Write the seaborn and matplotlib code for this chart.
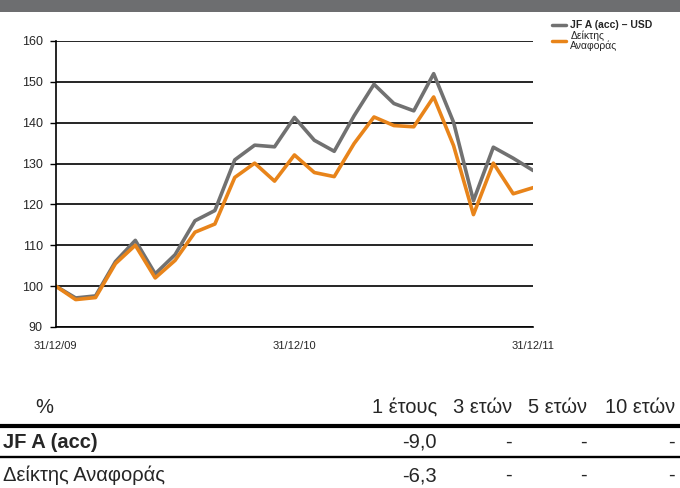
import pandas as pd
import matplotlib
matplotlib.use("Agg")
import matplotlib.pyplot as plt
import seaborn as sns
from matplotlib.lines import Line2D
from matplotlib.patches import Rectangle

# Δεδομένα (μηνιαίες τιμές, βάση 100 στις 31/12/09)
months = list(range(25))
fund = [100, 97.1, 97.6, 106.0, 111.2, 103.0, 107.7, 116.0, 118.5, 130.9,
        134.5, 134.1, 141.3, 135.7, 133.0, 141.7, 149.4, 144.7, 142.9, 152.0,
        140.1, 120.9, 134.0, 131.3, 128.3]
index = [100, 96.7, 97.2, 105.5, 110.0, 102.0, 106.3, 113.2, 115.2, 126.6,
         130.1, 125.7, 132.1, 127.8, 126.8, 134.9, 141.4, 139.3, 139.0, 146.3,
         134.4, 117.5, 130.1, 122.6, 124.1]
series_names = ["JF A (acc) – USD", "Δείκτης\nΑναφοράς"]
xtick_pos = [0, 12, 24]
xtick_labels = ["31/12/09", "31/12/10", "31/12/11"]
yticks = [90, 100, 110, 120, 130, 140, 150, 160]

table_header = ["%", "1 έτους", "3 ετών", "5 ετών", "10 ετών"]
row_names = ["JF A (acc)", "Δείκτης Αναφοράς"]
row_values = [["-9,0", "-", "-", "-"], ["-6,3", "-", "-", "-"]]

GRAY = "#717171"
ORANGE = "#e8841a"

df = pd.DataFrame({
    "month": months * 2,
    "value": fund + index,
    "series": [series_names[0]] * len(months) + [series_names[1]] * len(months),
})

sns.set_style("white")
plt.rcParams["font.family"] = ["Liberation Sans", "DejaVu Sans"]

fig = plt.figure(figsize=(6.8, 4.88), dpi=100)
ax = fig.add_axes([0.082, 0.330, 0.702, 0.586])

sns.lineplot(data=df, x="month", y="value", hue="series",
             palette=[GRAY, ORANGE], linewidth=2.6, ax=ax, legend=False)

ax.set_xlim(0, 24)
ax.set_ylim(90, 160)
ax.set_yticks(yticks)
ax.set_xticks(xtick_pos)
ax.set_xticklabels(xtick_labels)
ax.set_xlabel("")
ax.set_ylabel("")
ax.grid(axis="y", color="black", linewidth=1.2)
ax.set_axisbelow(True)
for s in ["top", "right"]:
    ax.spines[s].set_visible(False)
for s in ["left", "bottom"]:
    ax.spines[s].set_color("black")
    ax.spines[s].set_linewidth(1.2)
ax.tick_params(axis="y", length=4.3, width=1, color="black", labelsize=9, pad=5, left=True)
ax.tick_params(axis="x", length=0, labelsize=8, pad=10)

# Γραμμή τίτλου στην κορυφή
fig.add_artist(Rectangle((0, 0.975), 1, 0.025, transform=fig.transFigure,
                         color="#6d6e70", lw=0))

# Υπόμνημα
handles = [Line2D([], [], color=GRAY, lw=2.5), Line2D([], [], color=ORANGE, lw=2.5)]
leg = fig.legend(handles, series_names, loc="upper left",
                 bbox_to_anchor=(0.805, 0.967), frameon=False, fontsize=7.5,
                 handlelength=1.35, handletextpad=0.45, labelspacing=0.0,
                 borderaxespad=0)
leg.get_texts()[0].set_fontweight("bold")
leg.get_texts()[1].set_linespacing(0.95)

# Πίνακας αποδόσεων
W, H = 680.0, 488.0
def fx(px):
    return px / W
def fy(py):
    return 1 - py / H

TS = 14.5
col_right = [437, 512, 587, 675]
fig.text(fx(35), fy(413), table_header[0], fontsize=TS, va="baseline")
for i, h in enumerate(table_header[1:]):
    fig.text(fx(col_right[i]), fy(413), h, fontsize=TS, va="baseline", ha="right")
fig.add_artist(Line2D([0, 1], [fy(426), fy(426)], transform=fig.transFigure,
                      color="black", lw=3))
row_y = [448, 481]
for r, name in enumerate(row_names):
    fig.text(fx(3), fy(row_y[r]), name, fontsize=TS, va="baseline",
             fontweight="bold" if r == 0 else "normal")
    for c, v in enumerate(row_values[r]):
        fig.text(fx(col_right[c]), fy(row_y[r]), v, fontsize=TS, va="baseline", ha="right")
fig.add_artist(Line2D([0, 1], [fy(457), fy(457)], transform=fig.transFigure,
                      color="black", lw=1.7))

fig.savefig("out.png", dpi=100)
